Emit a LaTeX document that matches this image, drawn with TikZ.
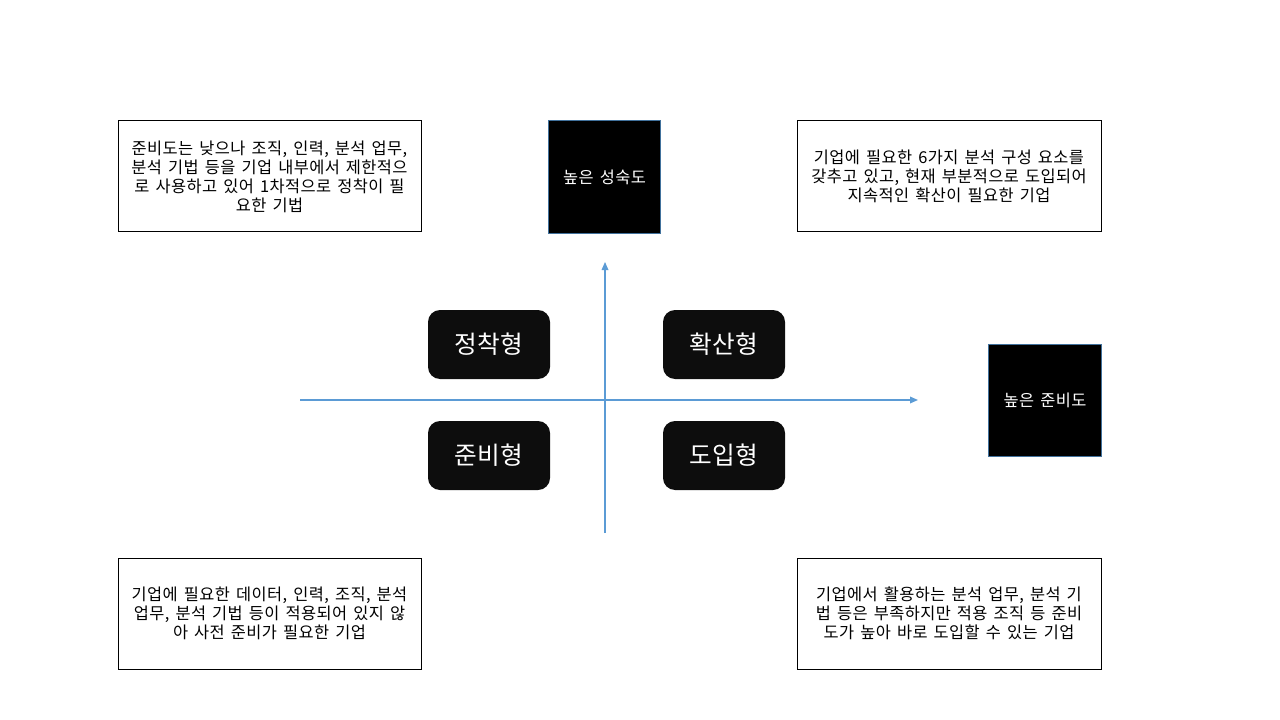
\documentclass[tikz,border=0pt]{standalone}
\usepackage{fontspec}
\setmainfont{Noto Sans CJK KR}[LetterSpace=2.5,WordSpace=1.5]
\usetikzlibrary{arrows.meta}
\definecolor{axisblue}{HTML}{5B9BD5}
\definecolor{edgeblue}{HTML}{41719C}
\definecolor{tilefill}{HTML}{0D0D0D}
\begin{document}
\begin{tikzpicture}[x=0.75pt,y=-0.75pt,
  descbox/.style={draw=black,line width=0.75pt,fill=white,minimum width=227.25pt,minimum height=83.25pt,
    inner sep=0pt,align=center,font=\fontsize{12.3}{14.2}\selectfont},
  labelbox/.style={draw=edgeblue,line width=0.6pt,fill=black,text=white,minimum width=84.5pt,minimum height=84.3pt,
    inner sep=0pt,align=center,font=\fontsize{12.3}{14.2}\selectfont},
  tile/.style={fill=tilefill,text=white,rounded corners=9pt,minimum width=91.5pt,minimum height=51.75pt,
    inner sep=0pt,font=\fontsize{18.5}{21}\selectfont},
  axis/.style={draw=axisblue,line width=0.9pt,-{Triangle[length=6pt,width=5pt]}}
]
\useasboundingbox (0,0) rectangle (1280,720);
% axes
\coordinate (hstart) at (300,400);
\coordinate (hend) at (918,400);
\coordinate (vstart) at (605,533);
\coordinate (vend) at (605,262);
\draw[axis] (hstart) -- (hend);
\draw[axis] (vstart) -- (vend);
% description boxes
\node[descbox] (tl) at (269.5,176.5) {준비도는 낮으나 조직, 인력, 분석 업무,\\분석 기법 등을 기업 내부에서 제한적으\\로 사용하고 있어 1차적으로 정착이 필\\요한 기법};
\node[descbox,minimum width=228pt] (tr) at (949,176.5) {기업에 필요한 6가지 분석 구성 요소를\\갖추고 있고, 현재 부분적으로 도입되어\\지속적인 확산이 필요한 기업};
\node[descbox] (bl) at (269.5,613.5) {기업에 필요한 데이터, 인력, 조직, 분석\\업무, 분석 기법 등이 적용되어 있지 않\\아 사전 준비가 필요한 기업};
\node[descbox,minimum width=228pt] (br) at (949,613.5) {기업에서 활용하는 분석 업무, 분석 기\\법 등은 부족하지만 적용 조직 등 준비\\도가 높아 바로 도입할 수 있는 기업};
% label boxes
\node[labelbox] (maturity) at (604.5,177) {높은 성숙도};
\node[labelbox] (readiness) at (1045,400.5) {높은 준비도};
% quadrant tiles
\node[tile] (settle) at (489,344.5) {정착형};
\node[tile] (spread) at (724,344.5) {확산형};
\node[tile] (prepare) at (489,455.5) {준비형};
\node[tile] (adopt) at (724,455.5) {도입형};
\end{tikzpicture}
\end{document}
